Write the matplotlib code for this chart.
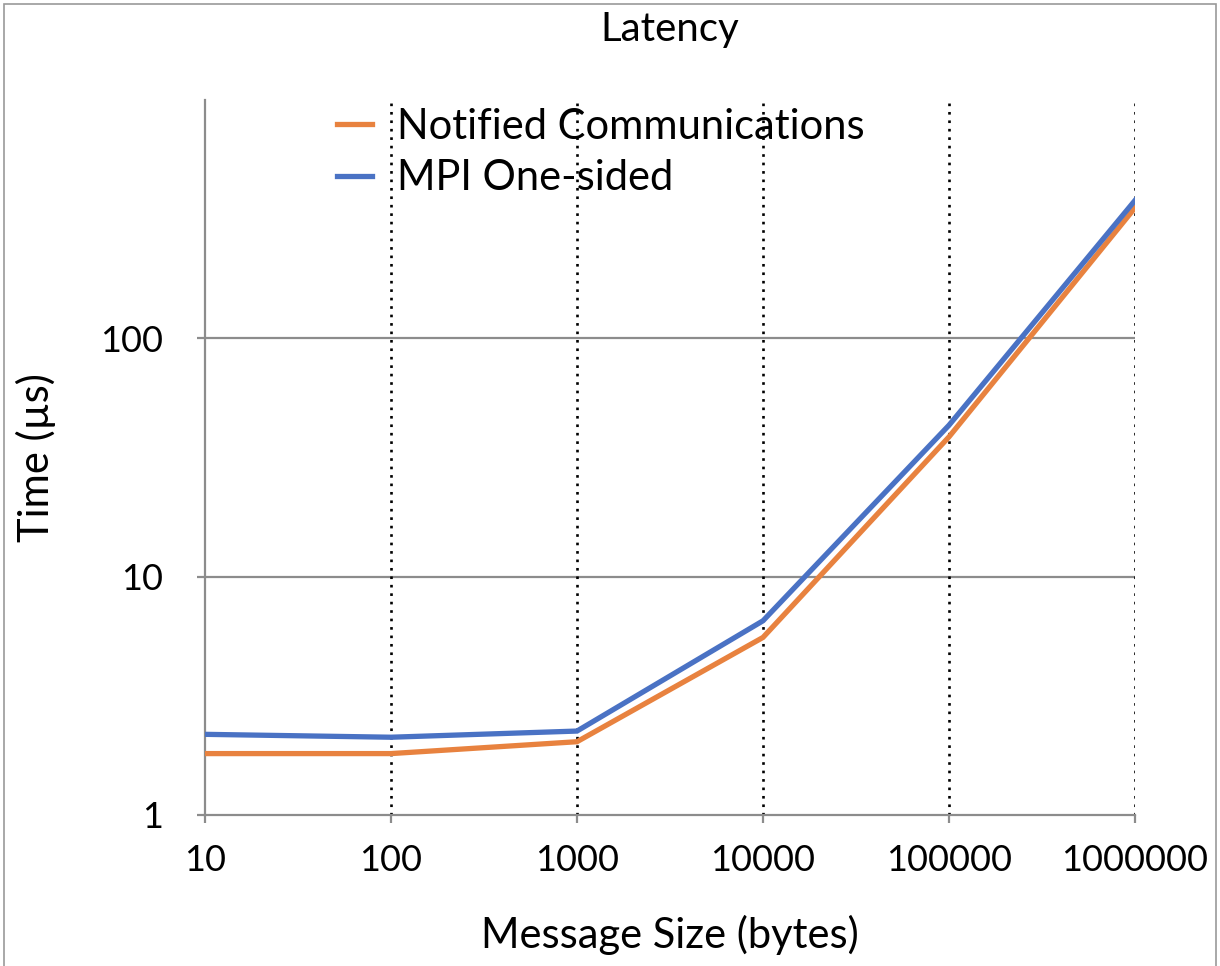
import matplotlib.pyplot as plt
from matplotlib.patches import Rectangle

# message sizes (bytes) and measured latency (us)
sizes = [10, 100, 1000, 10000, 100000, 1000000]
size_labels = ['10', '100', '1000', '10000', '100000', '1000000']
notified = [1.81, 1.81, 2.03, 5.56, 38.6, 353]
mpi_one_sided = [2.18, 2.12, 2.25, 6.53, 43.2, 379]
y_ticks = [1, 10, 100]
y_labels = ['1', '10', '100']

plt.rcParams['font.family'] = ['Lato', 'DejaVu Sans']

fig = plt.figure(figsize=(12.2, 9.66), dpi=100)
ax = fig.add_axes([205 / 1220, 151 / 966, 930 / 1220, 715 / 966])

ax.plot(sizes, notified, color='#E8823F', lw=3.8, label='Notified Communications',
        solid_joinstyle='miter', zorder=3)
ax.plot(sizes, mpi_one_sided, color='#4A72C4', lw=3.8, label='MPI One-sided',
        solid_joinstyle='miter', zorder=3)

ax.set_xscale('log')
ax.set_yscale('log')
ax.set_xlim(10, 1000000)
ax.set_ylim(1, 1000)
ax.minorticks_off()
ax.set_xticks(sizes)
ax.set_xticklabels(size_labels)
ax.set_yticks(y_ticks)
ax.set_yticklabels(y_labels)

# gridlines: solid gray horizontal, dotted black vertical
for yv in y_ticks[1:]:
    ax.axhline(yv, color='#8C8C8C', lw=1.6, zorder=1)
for xv in sizes[1:]:
    ax.axvline(xv, color='black', lw=1.9, ls=(0, (1, 2.2)), zorder=1)

for s in ['top', 'right']:
    ax.spines[s].set_visible(False)
for s in ['left', 'bottom']:
    ax.spines[s].set_color('#8C8C8C')
    ax.spines[s].set_linewidth(1.6)

ax.tick_params(axis='both', colors='#8C8C8C', width=1.6, length=6,
               labelcolor='black', labelsize=26)
ax.tick_params(axis='x', pad=15)
ax.tick_params(axis='y', pad=24)

fig.text(670 / 1220, 1 - 30 / 966, 'Latency', ha='center', va='center', fontsize=29)
ax.set_xlabel('Message Size (bytes)', fontsize=30, va='center')
ax.xaxis.set_label_coords(0.5, -120 / 715)
ax.set_ylabel('Time (\u00b5s)', fontsize=30, va='center')
ax.yaxis.set_label_coords(-(205 - 36) / 930, 0.5)

ax.legend(loc='upper left', bbox_to_anchor=(337 / 1220, 1 - 108 / 966),
          bbox_transform=fig.transFigure, frameon=False, fontsize=30,
          handlelength=0.85, handletextpad=0.6, labelspacing=0.32,
          borderaxespad=0, borderpad=0)

fig.patches.append(Rectangle((0.003, -0.01), 0.994, 1.006, transform=fig.transFigure,
                             fill=False, edgecolor='#9A9A9A', lw=1.2))

fig.savefig('out.png', dpi=100)
